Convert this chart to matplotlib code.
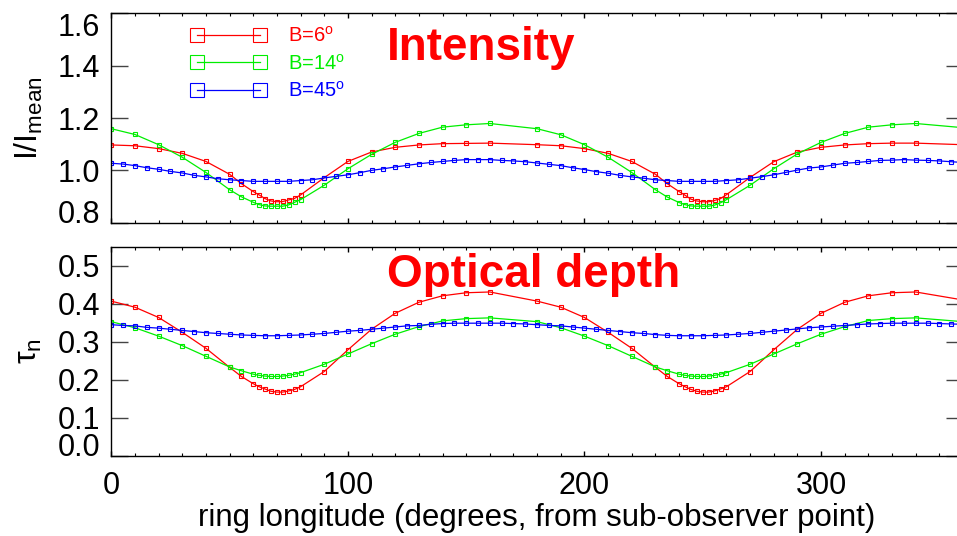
import numpy as np
import matplotlib
matplotlib.use("Agg")
import matplotlib.pyplot as plt
from matplotlib.lines import Line2D

plt.rcParams["font.family"] = ["Liberation Sans", "DejaVu Sans"]
plt.rcParams["mathtext.fontset"] = "custom"
plt.rcParams["mathtext.rm"] = "Liberation Sans"
plt.rcParams["mathtext.it"] = "Liberation Sans:italic"

# longitudes sampled for B=6 and B=14 (denser near the minima)
lon_rg = [0, 10, 20, 30, 40, 50, 55, 60, 62.5, 65, 67.5, 70, 72.5, 75, 77.5, 80,
          90, 100, 110, 120, 130, 140, 150, 160,
          180, 190, 200, 210, 220, 230, 235, 240, 242.5, 245, 247.5, 250, 252.5,
          255, 257.5, 260, 270, 280, 290, 300, 310, 320, 330, 340, 360]
# longitudes sampled for B=45
lon_b = np.arange(0, 365, 5)

int_b6 = [1.097, 1.094, 1.083, 1.065, 1.034, 0.985, 0.949, 0.919, 0.906, 0.892,
          0.883, 0.880, 0.881, 0.887, 0.893, 0.906, 0.972, 1.034, 1.070, 1.088,
          1.097, 1.102, 1.103, 1.104,
          1.098, 1.094, 1.083, 1.065, 1.034, 0.985, 0.949, 0.919, 0.905, 0.890,
          0.883, 0.880, 0.880, 0.885, 0.892, 0.907, 0.973, 1.033, 1.070, 1.088,
          1.097, 1.102, 1.104, 1.104, 1.098]
int_b14 = [1.159, 1.137, 1.098, 1.050, 0.992, 0.926, 0.899, 0.878, 0.869, 0.864,
           0.863, 0.863, 0.863, 0.868, 0.878, 0.888, 0.943, 1.006, 1.061, 1.107,
           1.141, 1.165, 1.174, 1.179,
           1.159, 1.136, 1.098, 1.050, 0.992, 0.926, 0.898, 0.877, 0.869, 0.864,
           0.863, 0.863, 0.863, 0.867, 0.876, 0.888, 0.943, 1.006, 1.063, 1.107,
           1.141, 1.165, 1.174, 1.179, 1.163]
int_b45 = [1.027, 1.024, 1.018, 1.010, 1.004, 0.996, 0.990, 0.981, 0.975, 0.968,
           0.964, 0.961, 0.958, 0.958, 0.958, 0.958, 0.961, 0.964, 0.971, 0.977,
           0.983, 0.991, 1.000, 1.006, 1.013, 1.019, 1.025, 1.030, 1.034, 1.038,
           1.041, 1.041, 1.041, 1.038, 1.036, 1.033, 1.028, 1.023, 1.018, 1.010,
           1.003, 0.995, 0.989, 0.981, 0.975, 0.970, 0.964, 0.961, 0.958, 0.958,
           0.958, 0.958, 0.961, 0.964, 0.970, 0.976, 0.983, 0.992, 1.001, 1.009,
           1.013, 1.020, 1.027, 1.030, 1.034, 1.038, 1.039, 1.041, 1.039, 1.038,
           1.036, 1.033, 1.030]

tau_b6 = [0.407, 0.391, 0.364, 0.325, 0.283, 0.233, 0.209, 0.190, 0.182, 0.176,
          0.170, 0.168, 0.168, 0.171, 0.175, 0.182, 0.222, 0.279, 0.333, 0.375,
          0.404, 0.421, 0.429, 0.431,
          0.407, 0.391, 0.364, 0.325, 0.283, 0.233, 0.209, 0.190, 0.182, 0.175,
          0.170, 0.168, 0.168, 0.171, 0.176, 0.182, 0.222, 0.279, 0.333, 0.375,
          0.404, 0.421, 0.429, 0.431, 0.410]
tau_b14 = [0.353, 0.337, 0.315, 0.290, 0.262, 0.234, 0.224, 0.215, 0.212, 0.210,
           0.209, 0.209, 0.210, 0.212, 0.215, 0.219, 0.241, 0.268, 0.295, 0.320,
           0.340, 0.355, 0.361, 0.363,
           0.353, 0.337, 0.315, 0.290, 0.262, 0.234, 0.224, 0.215, 0.212, 0.210,
           0.209, 0.209, 0.210, 0.212, 0.215, 0.219, 0.241, 0.268, 0.295, 0.320,
           0.340, 0.356, 0.361, 0.363, 0.353]
tau_b45 = [0.345, 0.343, 0.342, 0.338, 0.336, 0.333, 0.330, 0.327, 0.324, 0.322,
           0.320, 0.318, 0.317, 0.316, 0.316, 0.317, 0.318, 0.320, 0.322, 0.325,
           0.328, 0.330, 0.333, 0.336, 0.339, 0.342, 0.343, 0.346, 0.348, 0.349,
           0.349, 0.349, 0.349, 0.349, 0.348, 0.347, 0.345, 0.343, 0.342, 0.339,
           0.336, 0.333, 0.330, 0.327, 0.324, 0.322, 0.319, 0.317, 0.316, 0.316,
           0.316, 0.317, 0.318, 0.320, 0.322, 0.325, 0.328, 0.331, 0.334, 0.337,
           0.339, 0.341, 0.343, 0.345, 0.347, 0.348, 0.349, 0.349, 0.349, 0.349,
           0.348, 0.347, 0.346]

labels = ["B=6$^\\mathrm{o}$", "B=14$^\\mathrm{o}$", "B=45$^\\mathrm{o}$"]
colors = ["#ff0000", "#00ee00", "#0000ff"]

fig = plt.figure(figsize=(9.57, 5.36), dpi=100)
W, H = 957.0, 536.0
x0, x1 = 111.3, 963.0
ax1 = fig.add_axes([x0 / W, 1 - 222.7 / H, (x1 - x0) / W, 209.4 / H])
ax2 = fig.add_axes([x0 / W, 1 - 456.0 / H, (x1 - x0) / W, 209.3 / H])


def style(ax, yticks, ylim):
    ax.set_xlim(0, 360)
    ax.set_ylim(*ylim)
    ax.set_xticks([0, 100, 200, 300])
    ax.set_xticks(np.arange(0, 361, 10), minor=True)
    ax.set_yticks(yticks)
    ax.tick_params(axis="x", which="major", direction="in", length=3.6, width=1,
                   top=True, bottom=True, labelsize=22, pad=11)
    ax.tick_params(axis="x", which="minor", direction="in", length=2, width=0.8,
                   top=True, bottom=True)
    ax.tick_params(axis="y", which="major", direction="in", length=12.2, width=1,
                   color="#444444", left=True, right=True, labelsize=22, pad=8)
    for s in ax.spines.values():
        s.set_linewidth(1.0)


def draw(ax, series):
    for (lon, vals), c in zip(series, colors):
        ax.plot(lon, vals, color=c, lw=0.9, marker="s", ms=3.4, mfc="none",
                mec=c, mew=0.8)


draw(ax1, [(lon_rg, int_b6), (lon_rg, int_b14), (lon_b, int_b45)])
draw(ax2, [(lon_rg, tau_b6), (lon_rg, tau_b14), (lon_b, tau_b45)])

style(ax1, [0.8, 1.0, 1.2, 1.4, 1.6], (0.8, 1.6))
style(ax2, [0.0, 0.1, 0.2, 0.3, 0.4, 0.5], (0.0, 0.55))
ax1.tick_params(axis="x", labelbottom=False)

# keep the end labels inside the frame
yl1 = ax1.yaxis.get_major_ticks()
yl1[0].label1.set_verticalalignment("baseline")
yl1[-1].label1.set_verticalalignment("top")
ax2.yaxis.get_major_ticks()[0].label1.set_verticalalignment("baseline")

ax1.set_ylabel("I/I$_\\mathrm{mean}$", fontsize=23, labelpad=9)
ax2.set_ylabel("τ$_\\mathrm{n}$", fontsize=23, labelpad=10)
ax2.set_xlabel("ring longitude (degrees, from sub-observer point)", fontsize=22.5,
               labelpad=1)

ax1.text(0.3237, 0.777, "Intensity", transform=ax1.transAxes, color="#ff0000",
         fontsize=33, fontweight="bold", va="baseline", ha="left")
ax2.text(0.3237, 0.809, "Optical depth", transform=ax2.transAxes, color="#ff0000",
         fontsize=33, fontweight="bold", va="baseline", ha="left")

handles = [Line2D([], [], color=c, lw=0.9, marker="s", ms=9.5, mfc="none", mec=c,
                  mew=0.8) for c in colors]
ax1.legend(handles, labels, loc="upper left", bbox_to_anchor=(0.0936, 0.939),
           frameon=False, fontsize=14.5, numpoints=2, handlelength=3.73,
           handletextpad=1.1, labelspacing=0.36, borderpad=0, borderaxespad=0,
           labelcolor="linecolor")

fig.savefig("out.png", dpi=100)
